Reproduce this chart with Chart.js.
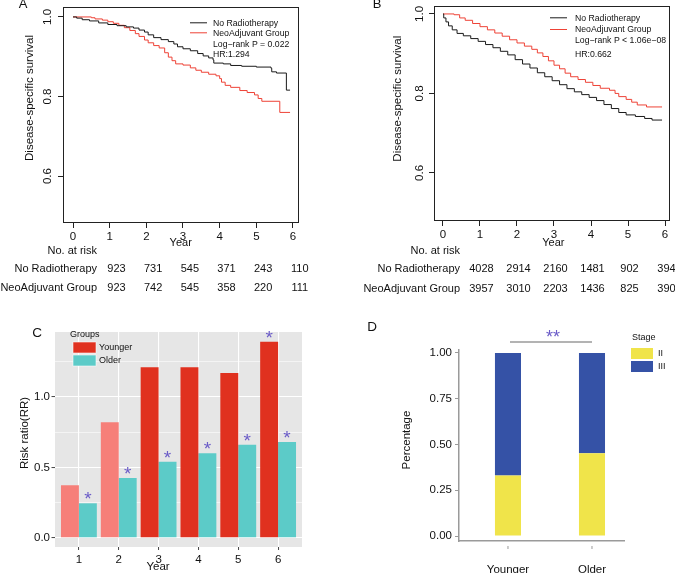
<!DOCTYPE html>
<html>
<head>
<meta charset="utf-8">
<script src="https://cdn.jsdelivr.net/npm/chart.js@4.4.1/dist/chart.umd.min.js"></script>
<style>
  html, body { margin: 0; padding: 0; background: #fff; }
  #fig { position: relative; width: 675px; height: 573px; }
  #fig canvas { position: absolute; left: 0; top: 0; }
</style>
</head>
<body>
<div id="fig">
  <canvas id="kmA" width="675" height="573"></canvas>
  <canvas id="kmB" width="675" height="573"></canvas>
  <canvas id="rrC" width="675" height="573"></canvas>
  <canvas id="stageD" width="675" height="573"></canvas>
</div>
<script>
// ---------------- data ----------------
const kmYears = [0, 1, 2, 3, 4, 5, 6];
const kmSurvTicks = [0.6, 0.8, 1.0];
const kmGroups = ['No Radiotherapy', 'NeoAdjuvant Group'];

// panel A
const aNoRadioT = [0, 0.1, 0.25, 0.45, 0.7, 0.95, 1.2, 1.45, 1.65, 1.8, 1.95, 2.05, 2.2, 2.4, 2.6, 2.75, 2.85, 3.0, 3.2, 3.4, 3.55, 3.7, 3.82, 3.84, 4.1, 4.3, 4.6, 5.0, 5.4, 5.42, 5.55, 5.82, 5.92];
const aNoRadioS = [1.0, 0.997, 0.993, 0.99, 0.985, 0.981, 0.978, 0.975, 0.972, 0.967, 0.962, 0.955, 0.948, 0.943, 0.938, 0.932, 0.925, 0.92, 0.915, 0.908, 0.902, 0.897, 0.892, 0.884, 0.882, 0.878, 0.876, 0.874, 0.871, 0.862, 0.859, 0.816, 0.816];
const aNeoAdjT = [0, 0.5, 0.6, 0.8, 0.95, 1.1, 1.25, 1.4, 1.55, 1.7, 1.8, 1.95, 2.05, 2.2, 2.35, 2.5, 2.6, 2.7, 2.8, 3.0, 3.2, 3.35, 3.5, 3.7, 3.9, 4.0, 4.05, 4.15, 4.3, 4.55, 4.75, 4.95, 5.05, 5.15, 5.64, 5.92];
const aNeoAdjS = [1.0, 0.998, 0.995, 0.992, 0.988, 0.984, 0.979, 0.973, 0.966, 0.958, 0.951, 0.942, 0.935, 0.928, 0.922, 0.91, 0.899, 0.89, 0.882, 0.879, 0.872, 0.866, 0.861, 0.856, 0.852, 0.845, 0.836, 0.828, 0.823, 0.815, 0.81, 0.804, 0.795, 0.788, 0.76, 0.76];
const aRiskNoRadio = [923, 731, 545, 371, 243, 110];
const aRiskNeoAdj = [923, 742, 545, 358, 220, 111];
const aStats = ['Log\u2212rank P = 0.022', 'HR:1.294'];

// panel B
const bNoRadioT = [0, 0.02, 0.08, 0.15, 0.25, 0.38, 0.55, 0.75, 0.95, 1.15, 1.35, 1.55, 1.75, 1.95, 2.15, 2.35, 2.55, 2.75, 2.95, 3.15, 3.35, 3.55, 3.75, 3.95, 4.15, 4.35, 4.55, 4.75, 4.95, 5.2, 5.45, 5.65, 5.92];
const bNoRadioS = [1.0, 0.99, 0.98, 0.97, 0.96, 0.951, 0.945, 0.938, 0.931, 0.923, 0.915, 0.906, 0.897, 0.885, 0.874, 0.864, 0.852, 0.842, 0.832, 0.822, 0.812, 0.804, 0.797, 0.79, 0.782, 0.772, 0.762, 0.752, 0.746, 0.742, 0.737, 0.733, 0.733];
const bNeoAdjT = [0, 0.3, 0.45, 0.6, 0.8, 1.0, 1.2, 1.4, 1.6, 1.8, 2.0, 2.2, 2.4, 2.55, 2.7, 2.85, 3.0, 3.15, 3.3, 3.45, 3.65, 3.85, 4.05, 4.25, 4.5, 4.65, 4.75, 4.95, 5.1, 5.25, 5.5, 5.92];
const bNeoAdjS = [1.0, 0.998, 0.99, 0.984, 0.976, 0.968, 0.96, 0.952, 0.944, 0.935, 0.927, 0.919, 0.911, 0.902, 0.893, 0.882, 0.871, 0.862, 0.851, 0.842, 0.835, 0.828, 0.82, 0.813, 0.808, 0.8, 0.792, 0.785, 0.778, 0.771, 0.766, 0.766];
const bRiskNoRadio = [4028, 2914, 2160, 1481, 902, 394];
const bRiskNeoAdj = [3957, 3010, 2203, 1436, 825, 390];
const bStats = ['Log\u2212rank P < 1.06e\u221208', 'HR:0.662'];

// panel C: risk ratio by year
const rrYears = [1, 2, 3, 4, 5, 6];
const rrYounger = [0.373, 0.82, 1.21, 1.21, 1.17, 1.39];
const rrOlder = [0.245, 0.425, 0.54, 0.60, 0.66, 0.68];
const youngerLight = [true, true, false, false, false, false];
const youngerSig = [false, false, false, false, false, true];
const olderSig = [true, true, true, true, true, true];
const rrTicks = [0, 0.25, 0.5, 0.75, 1.0, 1.25];

// panel D: stage share
const stageGroups = ['Younger', 'Older'];
const stageII = [0.33, 0.452];
const stageIII = [0.67, 0.548];
const stageTicks = [0, 0.25, 0.5, 0.75, 1.0];

// ---------------- drawing ----------------
const FONT = '"Liberation Sans", Arial, Helvetica, sans-serif';
const W = 675, H = 573;
const STAR = '#6b5cc8';
Chart.defaults.font.family = FONT;
Chart.defaults.color = '#111';

function txt(ctx, s, x, y, o) {
  ctx.save();
  ctx.font = o.size + 'px ' + FONT;
  ctx.fillStyle = o.color || '#111';
  ctx.textAlign = o.align || 'center';
  ctx.textBaseline = 'middle';
  if (o.rot) {
    ctx.translate(x, y);
    ctx.rotate(o.rot);
    ctx.fillText(s, 0, 0);
  } else {
    ctx.fillText(s, x, y);
  }
  ctx.restore();
}

// centre a glyph string on its real ink box (used for the asterisks)
function stars(ctx, s, x, y, size) {
  ctx.save();
  ctx.font = size + 'px ' + FONT;
  ctx.fillStyle = STAR;
  ctx.textAlign = 'center';
  ctx.textBaseline = 'alphabetic';
  const m = ctx.measureText(s);
  ctx.fillText(s, x, y + (m.actualBoundingBoxAscent - m.actualBoundingBoxDescent) / 2);
  ctx.restore();
}

function fixedTicks(list) {
  return s => { s.ticks = list.map(v => ({ value: v })); };
}

function kmChart(id, p) {
  const pts = (t, s) => t.map((x, i) => ({ x: x, y: s[i] }));
  const decor = {
    id: 'kmDecor',
    afterDraw(chart) {
      const ctx = chart.ctx, ca = chart.chartArea;
      const xs = chart.scales.x, ys = chart.scales.y;
      ctx.save();
      ctx.strokeStyle = '#222';
      ctx.lineWidth = 1;
      ctx.strokeRect(ca.left + 0.5, ca.top + 0.5, ca.right - ca.left - 1, ca.bottom - ca.top - 1);
      ctx.restore();

      kmSurvTicks.forEach(v => txt(ctx, v.toFixed(1), p.yLabelX, ys.getPixelForValue(v), { size: 11.5, rot: -Math.PI / 2 }));
      txt(ctx, 'Disease-specific survival', p.yTitleX, p.yTitleY, { size: 11.5, rot: -Math.PI / 2 });
      txt(ctx, p.letter, p.letterX, 4, { size: 13 });

      // legend
      const colors = ['#1a1a1a', '#ee4236'];
      kmGroups.forEach((g, i) => {
        ctx.save();
        ctx.strokeStyle = colors[i];
        ctx.lineWidth = 1;
        ctx.beginPath();
        ctx.moveTo(p.legX[0], p.legY[i] - 0.5);
        ctx.lineTo(p.legX[1], p.legY[i] - 0.5);
        ctx.stroke();
        ctx.restore();
        txt(ctx, g, p.legX[2], p.legY[i], { size: 8.7, align: 'left' });
      });
      p.stats.forEach((s, i) => txt(ctx, s, p.legX[2], p.legY[i + 2], { size: 8.7, align: 'left' }));

      // number at risk table
      txt(ctx, 'Year', p.yearX, 243, { size: 11 });
      txt(ctx, 'No. at risk', p.tableRight, 250.5, { size: 11, align: 'right' });
      kmGroups.forEach((g, r) => {
        const y = p.rowY[r];
        txt(ctx, g, p.tableRight, y, { size: 11, align: 'right' });
        p.risk[r].forEach((n, i) => txt(ctx, String(n), xs.getPixelForValue(kmYears[i]) + p.riskShift, y, { size: 11 }));
      });
    }
  };

  return new Chart(document.getElementById(id), {
    type: 'line',
    data: {
      datasets: [
        { data: pts(p.t[0], p.s[0]), borderColor: '#1a1a1a', borderWidth: 1, stepped: 'before', pointRadius: 0, fill: false },
        { data: pts(p.t[1], p.s[1]), borderColor: '#ee4236', borderWidth: 1, stepped: 'before', pointRadius: 0, fill: false }
      ]
    },
    options: {
      responsive: false,
      animation: false,
      events: [],
      layout: { padding: { left: 0, top: p.box.top, right: W - p.box.right, bottom: 0 } },
      scales: {
        x: {
          type: 'linear', min: p.xMin, max: p.xMax,
          afterBuildTicks: fixedTicks(kmYears),
          afterFit: s => { s.height = H - p.box.bottom; },
          grid: { drawOnChartArea: false, tickLength: 5, color: '#222', lineWidth: 1 },
          border: { display: false },
          ticks: { padding: 1.5, font: { size: 11.5 }, color: '#111', maxRotation: 0, autoSkip: false, callback: v => String(v) }
        },
        y: {
          type: 'linear', min: p.yMin, max: p.yMax,
          afterBuildTicks: fixedTicks(kmSurvTicks),
          afterFit: s => { s.width = p.box.left; },
          grid: { drawOnChartArea: false, tickLength: 5, color: '#222', lineWidth: 1 },
          border: { display: false },
          ticks: { display: false }
        }
      },
      plugins: { legend: { display: false }, tooltip: { enabled: false } }
    },
    plugins: [decor]
  });
}

kmChart('kmA', {
  t: [aNoRadioT, aNeoAdjT], s: [aNoRadioS, aNeoAdjS],
  risk: [aRiskNoRadio, aRiskNeoAdj], stats: aStats, letter: 'A',
  box: { left: 63, top: 7, right: 299, bottom: 223 },
  xMin: -0.273, xMax: 6.164, yMin: 0.482, yMax: 1.025,
  yLabelX: 48, yTitleX: 29.5, yTitleY: 98, letterX: 23,
  legX: [190, 207, 213], legY: [23.3, 33.3, 44.3, 55],
  yearX: 180.7, tableRight: 97, rowY: [269.3, 288.3], riskShift: 43.5
});

kmChart('kmB', {
  t: [bNoRadioT, bNeoAdjT], s: [bNoRadioS, bNeoAdjS],
  risk: [bRiskNoRadio, bRiskNeoAdj], stats: bStats, letter: 'B',
  box: { left: 434, top: 6, right: 670, bottom: 221 },
  xMin: -0.243, xMax: 6.135, yMin: 0.479, yMax: 1.02,
  yLabelX: 420, yTitleX: 398.3, yTitleY: 98.7, letterX: 377,
  legX: [550, 567, 575], legY: [18.3, 30, 40.7, 54.3],
  yearX: 553.3, tableRight: 460, rowY: [269.3, 289], riskShift: 38.5
});

// ---- panel C ----
const cBox = { left: 55, top: 332, right: 302, bottom: 547 };
new Chart(document.getElementById('rrC'), {
  type: 'bar',
  data: {
    datasets: [
      { label: 'Younger', data: rrYears.map((x, i) => ({ x: x, y: rrYounger[i] })),
        backgroundColor: youngerLight.map(l => l ? '#f67f79' : '#e0311f'),
        categoryPercentage: 0.9, barPercentage: 1, borderWidth: 0 },
      { label: 'Older', data: rrYears.map((x, i) => ({ x: x, y: rrOlder[i] })),
        backgroundColor: '#5ccbc8', categoryPercentage: 0.9, barPercentage: 1, borderWidth: 0 }
    ]
  },
  options: {
    responsive: false,
    animation: false,
    events: [],
    layout: { padding: { left: 0, top: cBox.top, right: W - cBox.right, bottom: 0 } },
    scales: {
      x: {
        type: 'linear', min: 0.4, max: 6.6, offset: false,
        afterBuildTicks: fixedTicks(rrYears),
        afterFit: s => { s.height = H - cBox.bottom; },
        grid: { offset: false, color: '#ffffff', lineWidth: 1.1, tickLength: 3, tickColor: '#444', tickWidth: 1 },
        border: { display: false },
        ticks: { padding: 3, font: { size: 11.5 }, color: '#111', maxRotation: 0, autoSkip: false, callback: v => String(v) }
      },
      y: {
        type: 'linear', min: -0.065, max: 1.46,
        afterBuildTicks: fixedTicks(rrTicks),
        afterFit: s => { s.width = cBox.left; },
        grid: {
          color: '#ffffff',
          lineWidth: c => (c.tick && c.tick.value % 0.5 === 0) ? 1.1 : 0.55,
          tickLength: 3.5,
          tickColor: c => (c.tick && c.tick.value % 0.5 === 0) ? '#444' : 'rgba(0,0,0,0)',
          tickWidth: 1
        },
        border: { display: false },
        ticks: { padding: 1.5, font: { size: 11.5 }, color: '#111', callback: v => v % 0.5 === 0 ? v.toFixed(1) : '' }
      }
    },
    plugins: { legend: { display: false }, tooltip: { enabled: false } }
  },
  plugins: [{
    id: 'rrDecor',
    beforeDraw(chart) {
      const ctx = chart.ctx, ca = chart.chartArea;
      ctx.save();
      ctx.fillStyle = '#e6e6e6';
      ctx.fillRect(ca.left, ca.top, ca.right - ca.left, ca.bottom - ca.top);
      ctx.restore();
    },
    afterDraw(chart) {
      const ctx = chart.ctx;
      [youngerSig, olderSig].forEach((sig, d) => {
        const meta = chart.getDatasetMeta(d);
        sig.forEach((on, i) => {
          if (!on) return;
          const bar = meta.data[i];
          stars(ctx, '*', bar.x, bar.y - 7.5, 19);
        });
      });
      txt(ctx, 'C', 37, 333, { size: 13.5 });
      txt(ctx, 'Year', 158, 567, { size: 11.5 });
      txt(ctx, 'Risk ratio(RR)', 25, 433, { size: 11.5, rot: -Math.PI / 2 });
      // legend
      txt(ctx, 'Groups', 70, 335, { size: 9, align: 'left' });
      const keys = [['Younger', '#e0311f', 342], ['Older', '#5ccbc8', 355]];
      keys.forEach(k => {
        ctx.save();
        ctx.fillStyle = k[1];
        ctx.fillRect(73, k[2], 23, 11);
        ctx.strokeStyle = 'rgba(255,255,255,0.7)';
        ctx.lineWidth = 0.8;
        ctx.strokeRect(73, k[2], 23, 11);
        ctx.restore();
        txt(ctx, k[0], 99, k[2] + 5.5, { size: 9, align: 'left' });
      });
    }
  }]
});

// ---- panel D ----
const dBox = { left: 459, top: 350, right: 624, bottom: 541 };
new Chart(document.getElementById('stageD'), {
  type: 'bar',
  data: {
    datasets: [
      { label: 'II', data: stageGroups.map((g, i) => ({ x: i + 1, y: stageII[i] })),
        backgroundColor: '#f0e44a', categoryPercentage: 0.31, barPercentage: 1, borderWidth: 0 },
      { label: 'III', data: stageGroups.map((g, i) => ({ x: i + 1, y: stageIII[i] })),
        backgroundColor: '#3552a6', categoryPercentage: 0.31, barPercentage: 1, borderWidth: 0 }
    ]
  },
  options: {
    responsive: false,
    animation: false,
    events: [],
    layout: { padding: { left: 0, top: dBox.top, right: W - dBox.right, bottom: 0 } },
    scales: {
      x: {
        type: 'linear', stacked: true, min: 0.417, max: 2.381, offset: false,
        afterBuildTicks: fixedTicks([1, 2]),
        afterFit: s => { s.height = H - dBox.bottom; },
        grid: { display: false, offset: false },
        border: { display: true, color: '#9a9a9a', width: 1.5 },
        ticks: { padding: 14, font: { size: 11.5 }, color: '#111', maxRotation: 0, autoSkip: false, callback: v => stageGroups[v - 1] }
      },
      y: {
        type: 'linear', stacked: true, min: -0.027, max: 1.016,
        afterBuildTicks: fixedTicks(stageTicks),
        afterFit: s => { s.width = dBox.left; },
        grid: { drawOnChartArea: false, tickLength: 4, color: '#9a9a9a', lineWidth: 1 },
        border: { display: true, color: '#9a9a9a', width: 1.5 },
        ticks: { padding: 3, font: { size: 11.5 }, color: '#111', callback: v => v.toFixed(2) }
      }
    },
    plugins: { legend: { display: false }, tooltip: { enabled: false } }
  },
  plugins: [{
    id: 'stageDecor',
    afterDraw(chart) {
      const ctx = chart.ctx, xs = chart.scales.x;
      ctx.save();
      ctx.strokeStyle = '#9a9a9a';
      ctx.lineWidth = 1;
      [1, 2].forEach(v => {
        const x = xs.getPixelForValue(v);
        ctx.beginPath();
        ctx.moveTo(x, 546);
        ctx.lineTo(x, 549);
        ctx.stroke();
      });
      // significance bracket
      ctx.lineWidth = 1.5;
      ctx.beginPath();
      ctx.moveTo(510, 342);
      ctx.lineTo(592, 342);
      ctx.stroke();
      ctx.restore();
      stars(ctx, '**', 553, 333, 18);

      txt(ctx, 'D', 372, 327, { size: 13.5 });
      txt(ctx, 'Percentage', 407, 440, { size: 11.5, rot: -Math.PI / 2 });
      // legend
      txt(ctx, 'Stage', 632, 338, { size: 9, align: 'left' });
      const keys = [['II', '#f0e44a', 348], ['III', '#3552a6', 361]];
      keys.forEach(k => {
        ctx.save();
        ctx.fillStyle = k[1];
        ctx.fillRect(631, k[2], 22, 11);
        ctx.restore();
        txt(ctx, k[0], 658, k[2] + 5.5, { size: 9, align: 'left' });
      });
    }
  }]
});
</script>
</body>
</html>
